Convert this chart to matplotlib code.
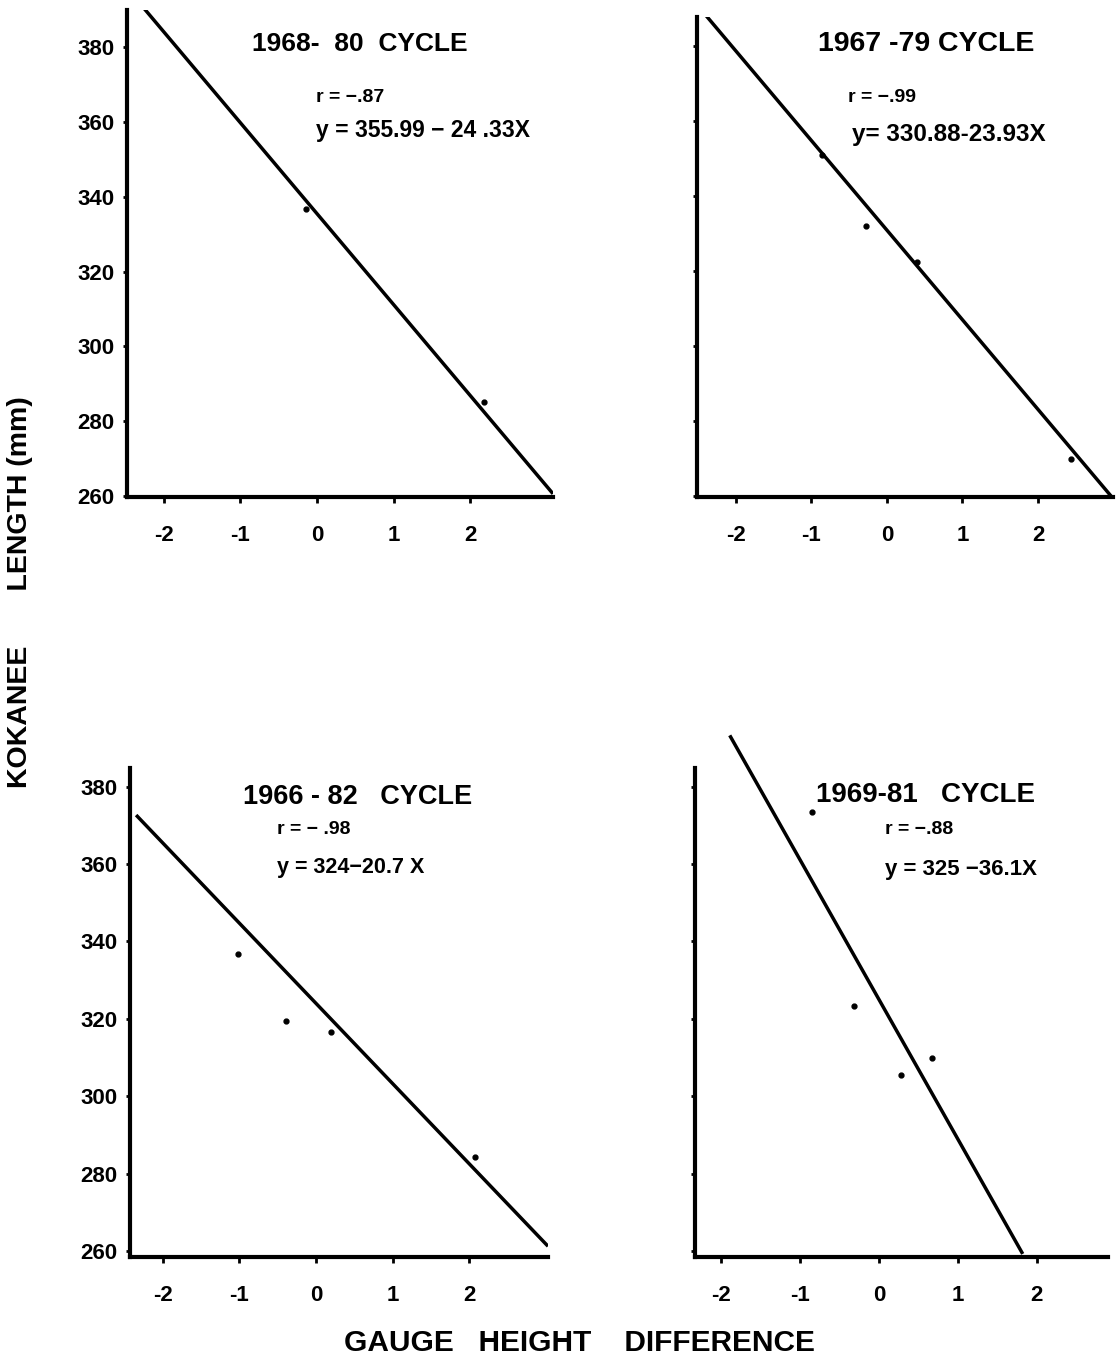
import matplotlib.pyplot as plt

plt.rcParams['font.family'] = ['Liberation Sans', 'DejaVu Sans']
plt.rcParams['font.weight'] = 'bold'

# panel order: top-left, top-right, bottom-left, bottom-right
titles = ['1968-  80  CYCLE', '1967 -79 CYCLE', '1966 - 82   CYCLE', '1969-81   CYCLE']
r_text = ['r = \u2212.87', 'r = \u2212.99', 'r = \u2212 .98', 'r = \u2212.88']
eq_text = ['y = 355.99 \u2212 24 .33X', 'y= 330.88-23.93X', 'y = 324\u221220.7 X', 'y = 325 \u221236.1X']

# observed points (gauge height difference, length mm)
pts_x = [[-0.14, 2.18],
         [-0.86, -0.28, 0.40, 2.44],
         [-1.02, -0.39, 0.20, 2.07],
         [-0.85, -0.32, 0.28, 0.67]]
pts_y = [[336.8, 285.0],
         [350.9, 332.0, 322.4, 269.9],
         [336.7, 319.4, 316.6, 284.3],
         [373.4, 323.3, 305.5, 309.9]]

# fitted lines: intercept, slope, x range drawn
fit_a = [335.5, 330.88, 324.0, 325.0]
fit_b = [-24.33, -23.93, -20.7, -36.1]
line_x0 = [-2.48, -2.44, -2.35, -1.89]
line_x1 = [3.08, 2.99, 3.03, 1.82]

xlims = [(-2.48, 3.08), (-2.51, 2.99), (-2.43, 3.03), (-2.33, 2.90)]
ylims = [(259.7, 390.0), (259.7, 387.7), (258.5, 384.8), (258.5, 384.8)]

x_ticks = [-2, -1, 0, 1, 2]
x_ticklabels = ['-2', '-1', '0', '1', '2']
y_ticks = [260, 280, 300, 320, 340, 360, 380]

W, H = 1116, 1361
fig = plt.figure(figsize=(W / 100, H / 100), dpi=100)

# axes boxes in pixels: left, top, right, bottom
boxes = [(127, 10, 553, 497), (697, 17, 1113, 497),
         (130, 768, 548, 1257), (695, 768, 1108, 1257)]
title_pos = [(360, 44), (926, 44), (358, 797), (925, 795)]
title_size = [19, 20.5, 19.5, 20]
r_pos = [(316, 97), (848, 97), (277, 830), (885, 829)]
eq_pos = [(316, 130), (852, 134), (277, 868), (885, 870)]
eq_size = [16.5, 17.5, 15.5, 16]

for i in range(4):
    l, t, r, b = boxes[i]
    ax = fig.add_axes([l / W, 1 - b / H, (r - l) / W, (b - t) / H])
    ax.set_xlim(*xlims[i])
    ax.set_ylim(*ylims[i])
    for s in ['top', 'right']:
        ax.spines[s].set_visible(False)
    for s in ['left', 'bottom']:
        ax.spines[s].set_linewidth(3.0)
    ax.set_xticks(x_ticks)
    ax.set_xticklabels(x_ticklabels)
    ax.set_yticks(y_ticks)
    ax.tick_params(axis='x', length=4, width=2, pad=16, labelsize=16)
    ax.tick_params(axis='y', length=3, width=2, pad=6, labelsize=16)
    if i % 2 == 1:
        ax.tick_params(axis='y', labelleft=False)
    for lab in ax.get_xticklabels() + ax.get_yticklabels():
        lab.set_fontweight('bold')

    xs = [line_x0[i], line_x1[i]]
    ys = [fit_a[i] + fit_b[i] * x for x in xs]
    ax.plot(xs, ys, color='black', lw=2.5, solid_capstyle='butt',
            clip_on=(i != 3))
    ax.plot(pts_x[i], pts_y[i], 'o', color='black', ms=3.5)

    fig.text(title_pos[i][0] / W, 1 - title_pos[i][1] / H, titles[i],
             ha='center', va='center', fontsize=title_size[i], fontweight='bold')
    fig.text(r_pos[i][0] / W, 1 - r_pos[i][1] / H, r_text[i],
             ha='left', va='center', fontsize=14, fontweight='bold')
    fig.text(eq_pos[i][0] / W, 1 - eq_pos[i][1] / H, eq_text[i],
             ha='left', va='center', fontsize=eq_size[i], fontweight='bold')

fig.text(20 / W, 1 - 592 / H, 'KOKANEE       LENGTH (mm)', rotation=90,
         ha='center', va='center', fontsize=20.5, fontweight='bold')
fig.text(579 / W, 1 - 1343 / H, 'GAUGE   HEIGHT    DIFFERENCE',
         ha='center', va='center', fontsize=21.5, fontweight='bold')

fig.savefig('out.png', dpi=100, facecolor='white')
